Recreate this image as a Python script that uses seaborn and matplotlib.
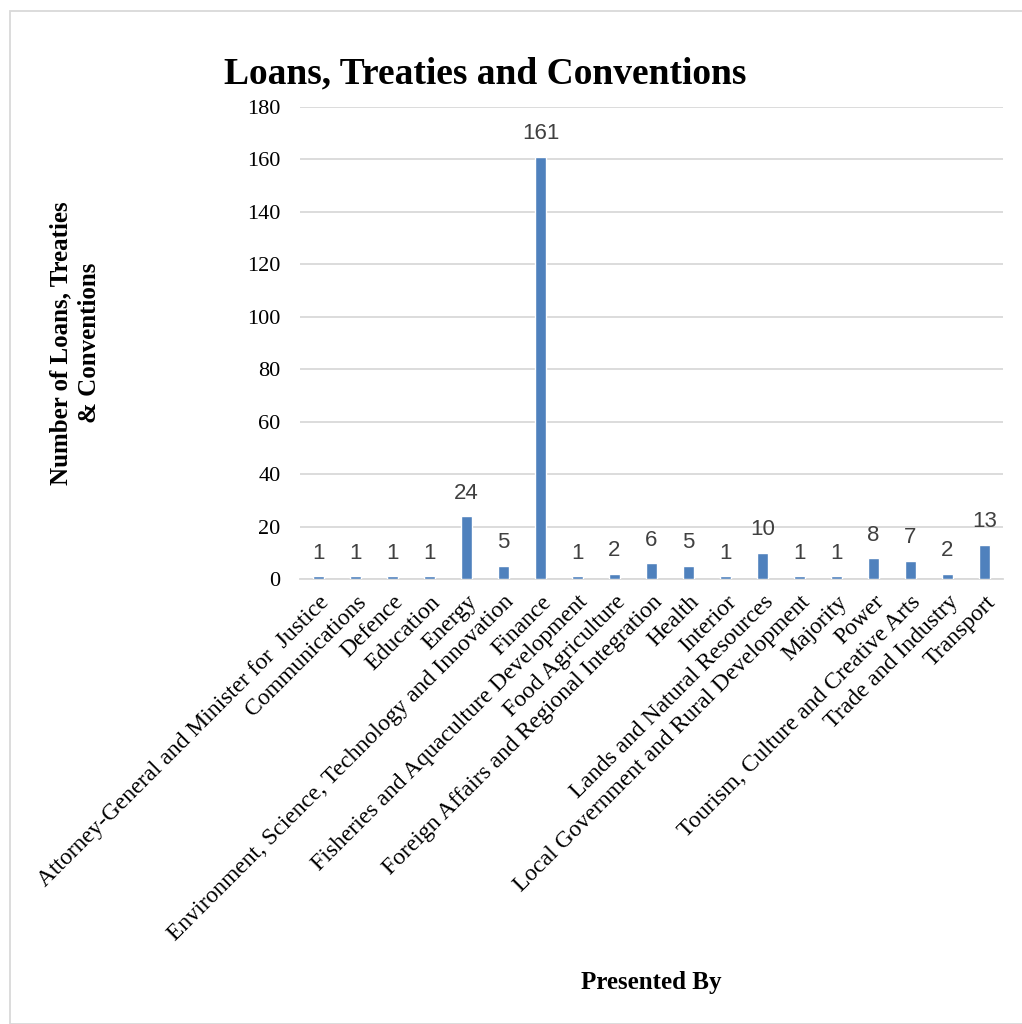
import matplotlib
matplotlib.use("Agg")
import matplotlib.pyplot as plt
import seaborn as sns
import pandas as pd
from matplotlib.patches import Rectangle

categories = [
    "Attorney-General and Minister for  Justice",
    "Communications",
    "Defence",
    "Education",
    "Energy",
    "Environment, Science, Technology and Innovation",
    "Finance",
    "Fisheries and Aquaculture Development",
    "Food Agriculture",
    "Foreign Affairs and Regional Integration",
    "Health",
    "Interior",
    "Lands and Natural Resources",
    "Local Government and Rural Development",
    "Majority",
    "Power",
    "Tourism, Culture and Creative Arts",
    "Trade and Industry",
    "Transport",
]
values = [1, 1, 1, 1, 24, 5, 161, 1, 2, 6, 5, 1, 10, 1, 1, 8, 7, 2, 13]
yticks = [0, 20, 40, 60, 80, 100, 120, 140, 160, 180]

title = "Loans, Treaties and Conventions"
ylabel = "Number of Loans, Treaties\n& Conventions"
xlabel = "Presented By"

sns.set_theme(style="white")
plt.rcParams["font.family"] = ["Liberation Serif", "DejaVu Serif"]
plt.rcParams["text.color"] = "black"
plt.rcParams["xtick.color"] = "black"
plt.rcParams["ytick.color"] = "black"

df = pd.DataFrame({"cat": categories, "val": values})

fig = plt.figure(figsize=(10.22, 10.24), dpi=100)
ax = fig.add_axes([300 / 1022, 1 - 579 / 1024, 703 / 1022, (579 - 107) / 1024])

sns.barplot(data=df, x="cat", y="val", color="#4F81BD", width=0.3,
            saturation=1, ax=ax, zorder=3)

ax.set_ylim(0, 180)
ax.set_yticks(yticks)
ax.set_yticklabels([str(v) for v in yticks], fontsize=16)
ax.yaxis.grid(True, color="#D9D9D9", linewidth=1.3, zorder=0)
ax.set_axisbelow(True)
for s in ["top", "right", "left"]:
    ax.spines[s].set_visible(False)
ax.spines["bottom"].set_color("#D9D9D9")
ax.spines["bottom"].set_linewidth(1.3)
ax.tick_params(axis="both", length=0, pad=14)
ax.tick_params(axis="x", pad=9)
ax.set_xticks(range(len(categories)))
ax.set_xticklabels(categories, rotation=45, ha="right", rotation_mode="anchor",
                   fontsize=17)
ax.set_xlabel("")
ax.set_ylabel("")

for i, v in enumerate(values):
    ax.annotate(str(v), (i, v), xytext=(0, 9), textcoords="offset points",
                ha="center", va="bottom", fontsize=16, color="#404040",
                family=["Liberation Sans", "DejaVu Sans"])

fig.text(485 / 1022, 1 - 74 / 1024, title, ha="center", va="center",
         fontsize=27, fontweight="bold")
fig.text(75 / 1022, 1 - 343 / 1024, ylabel, ha="center", va="center",
         rotation=90, fontsize=18, fontweight="bold", linespacing=1.35)
fig.text(651 / 1022, 1 - 983 / 1024, xlabel, ha="center", va="center",
         fontsize=18, fontweight="bold")

fig.patches.append(Rectangle((10 / 1022, 0), 1.0, 1 - 11 / 1024,
                             transform=fig.transFigure, fill=False,
                             edgecolor="#D9D9D9", linewidth=1.3))

fig.savefig("out.png", dpi=100)
